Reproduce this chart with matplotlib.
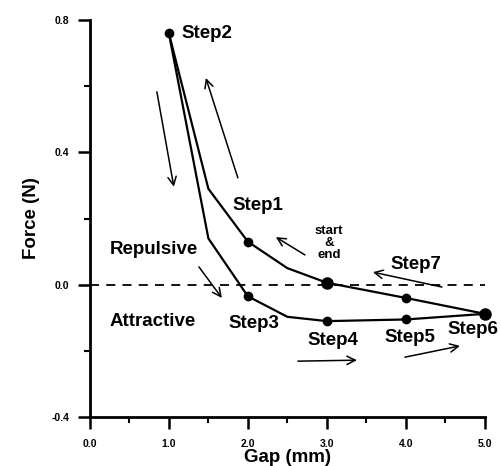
import matplotlib
matplotlib.use("Agg")
import matplotlib.pyplot as plt
from matplotlib.ticker import MultipleLocator

plt.rcParams['font.family'] = ['Liberation Sans', 'DejaVu Sans']
plt.rcParams['font.weight'] = 'bold'

# Return path (Step6 -> Step7 -> end -> Step1 -> Step2)
upper_gap = [1.0, 1.5, 2.0, 2.5, 3.0, 4.0, 5.0]
upper_force = [0.76, 0.29, 0.13, 0.05, 0.006, -0.04, -0.088]
# Outgoing path (Step2 -> Step3 -> ... -> Step6)
lower_gap = [1.0, 1.5, 2.0, 2.5, 3.0, 4.0, 5.0]
lower_force = [0.76, 0.14, -0.035, -0.097, -0.11, -0.105, -0.088]

small_pts_x = [1.0, 2.0, 4.0, 2.0, 3.0, 4.0]
small_pts_y = [0.76, 0.13, -0.04, -0.035, -0.11, -0.105]
big_pts_x = [3.0, 5.0]
big_pts_y = [0.006, -0.088]

xticks = [0.0, 1.0, 2.0, 3.0, 4.0, 5.0]
xticklabels = ['0.0', '1.0', '2.0', '3.0', '4.0', '5.0']
yticks = [-0.4, 0.0, 0.4, 0.8]
yticklabels = ['-0.4', '0.0', '0.4', '0.8']

labels = [
    ("Step2", 1.165, 0.76),
    ("Step1", 1.80, 0.24),
    ("Step7", 3.81, 0.062),
    ("Repulsive", 0.25, 0.105),
    ("Attractive", 0.25, -0.11),
    ("Step3", 1.75, -0.116),
    ("Step4", 2.76, -0.17),
    ("Step5", 3.73, -0.158),
    ("Step6", 4.53, -0.134),
]

arrows = [
    ((0.848, 0.583), (1.063, 0.296)),
    ((1.873, 0.323), (1.468, 0.625)),
    ((2.722, 0.090), (2.354, 0.144)),
    ((4.456, -0.007), (3.582, 0.038)),
    ((1.380, 0.054), (1.671, -0.040)),
    ((2.633, -0.231), (3.380, -0.228)),
    ((3.987, -0.219), (4.684, -0.185)),
]

fig = plt.figure(figsize=(5.02, 4.66), dpi=100)
ax = fig.add_axes([0.179, 0.105, 0.787, 0.852])

ax.plot([0, 5.0], [0, 0], color='black', lw=1.3, ls=(0, (5, 4)), clip_on=False)
ax.plot(upper_gap, upper_force, color='black', lw=1.6, clip_on=False)
ax.plot(lower_gap, lower_force, color='black', lw=1.6, clip_on=False)
ax.plot(small_pts_x, small_pts_y, 'o', color='black', ms=6, clip_on=False)
ax.plot(big_pts_x, big_pts_y, 'o', color='black', ms=8, clip_on=False)

for t, x, y in labels:
    ax.text(x, y, t, ha='left', va='center', fontsize=13.5, fontweight='bold')
ax.text(3.03, 0.125, "start\n&\nend", ha='center', va='center', fontsize=9.5,
        fontweight='bold', linespacing=1.0)

for (x0, y0), (x1, y1) in arrows:
    ax.annotate('', xy=(x1, y1), xytext=(x0, y0),
                arrowprops=dict(arrowstyle='->', color='black', lw=1.1,
                                mutation_scale=15, shrinkA=0, shrinkB=0))

ax.set_xlim(0, 5.0)
ax.set_ylim(-0.4, 0.8)
ax.set_xticks(xticks)
ax.set_xticklabels(xticklabels)
ax.set_yticks(yticks)
ax.set_yticklabels(yticklabels)
ax.xaxis.set_minor_locator(MultipleLocator(0.5))
ax.yaxis.set_minor_locator(MultipleLocator(0.2))
ax.tick_params(axis='x', which='major', direction='out', length=8.5, width=1.8,
               labelsize=7.5, pad=7)
ax.tick_params(axis='y', which='major', direction='out', length=9, width=1.8,
               labelsize=7.5, pad=6)
ax.tick_params(axis='both', which='minor', direction='out', length=4, width=1.5)
for lab in ax.get_xticklabels() + ax.get_yticklabels():
    lab.set_fontweight('bold')

for s in ['top', 'right']:
    ax.spines[s].set_visible(False)
for s in ['left', 'bottom']:
    ax.spines[s].set_linewidth(2.0)

ax.set_xlabel("Gap (mm)", fontsize=13.5, fontweight='bold', labelpad=0)
ax.set_ylabel("Force (N)", fontsize=13.5, fontweight='bold', labelpad=8)

fig.savefig("out.png", dpi=100)
